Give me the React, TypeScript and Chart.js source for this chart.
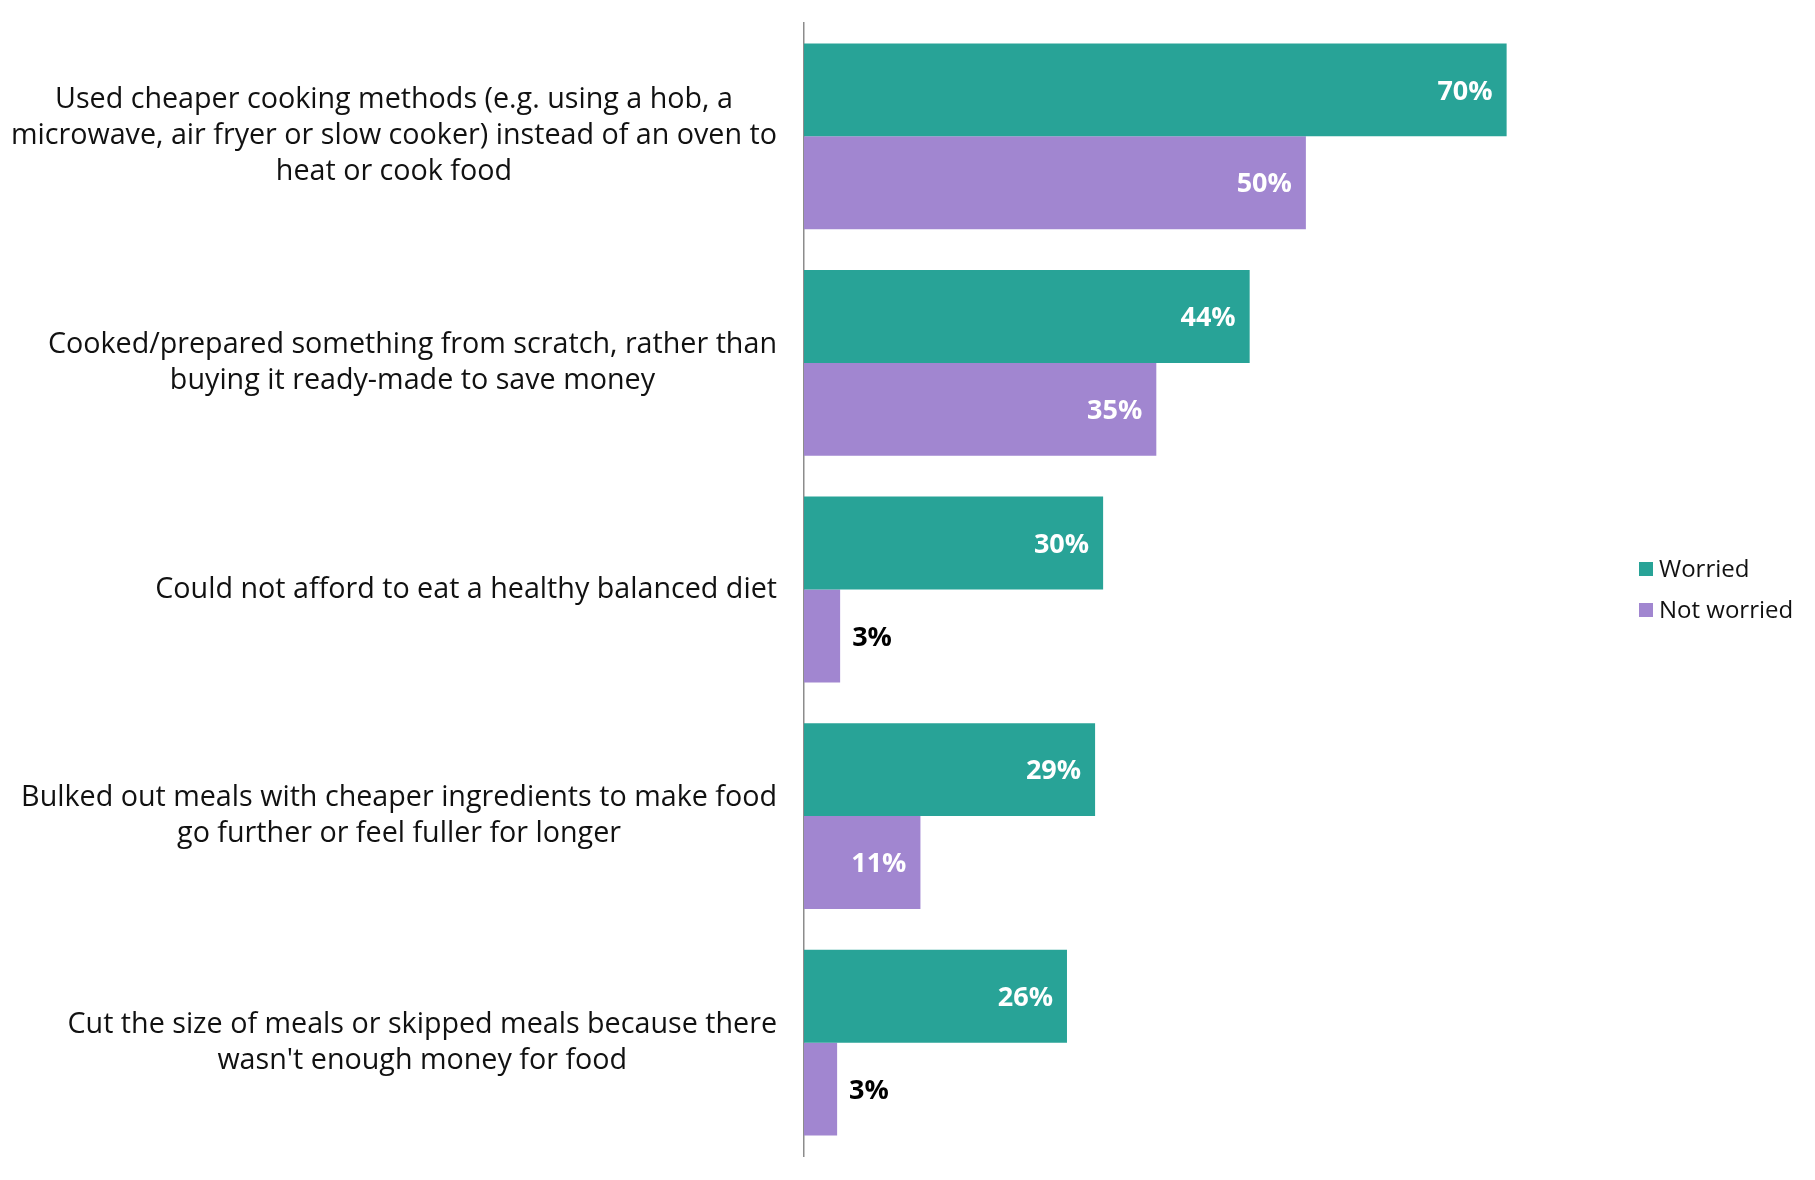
import React, { useEffect, useRef } from "react";
import { Chart, registerables } from "chart.js";

Chart.register(...registerables);

const categories: string[][] = [
  ["Used cheaper cooking methods (e.g. using a hob, a", "microwave, air fryer or slow cooker) instead of an oven to", "heat or cook food"],
  ["Cooked/prepared something from scratch, rather than", "buying it ready-made to save money"],
  ["Could not afford to eat a healthy balanced diet"],
  ["Bulked out meals with cheaper ingredients to make food", "go further or feel fuller for longer"],
  ["Cut the size of meals or skipped meals because there", "wasn't enough money for food"],
];

// bar lengths
const worried: number[] = [70, 44.4, 29.8, 29, 26.2];
const notWorried: number[] = [50, 35.1, 3.6, 11.6, 3.3];

// value labels as printed on the picture
const worriedLabels: string[] = ["70%", "44%", "30%", "29%", "26%"];
const notWorriedLabels: string[] = ["50%", "35%", "3%", "11%", "3%"];

const seriesNames: string[] = ["Worried", "Not worried"];
const seriesColors: string[] = ["#28A397", "#A186D0"];
const seriesLabels: string[][] = [worriedLabels, notWorriedLabels];

const FONT = "'Open Sans', 'Noto Sans', sans-serif";

const customDraw = {
  id: "customDraw",
  afterDatasetsDraw(chart: any) {
    const ctx = chart.ctx;
    const area = chart.chartArea;
    const yScale = chart.scales.y;
    ctx.save();

    // category labels
    ctx.font = `28.7px ${FONT}`;
    ctx.fillStyle = "#111111";
    ctx.textBaseline = "middle";
    ctx.textAlign = "center";
    const lineH = 36;
    const rightEdge = area.left - 27;
    categories.forEach((lines, i) => {
      const cy = yScale.getPixelForValue(i);
      const widest = Math.max(...lines.map((l) => ctx.measureText(l).width));
      const cx = rightEdge - widest / 2;
      const startY = cy - ((lines.length - 1) * lineH) / 2;
      lines.forEach((l, j) => ctx.fillText(l, cx, startY + j * lineH));
    });

    // data labels
    ctx.font = `bold 27px ${FONT}`;
    chart.data.datasets.forEach((ds: any, di: number) => {
      const meta = chart.getDatasetMeta(di);
      meta.data.forEach((bar: any, i: number) => {
        const text = seriesLabels[di][i];
        const tw = ctx.measureText(text).width;
        const barLen = bar.x - bar.base;
        if (barLen > tw + 30) {
          ctx.fillStyle = "#ffffff";
          ctx.textAlign = "right";
          ctx.fillText(text, bar.x - 14, bar.y + 2);
        } else {
          ctx.fillStyle = "#000000";
          ctx.textAlign = "left";
          ctx.fillText(text, bar.x + 12, bar.y + 2);
        }
      });
    });

    // legend
    ctx.font = `24px ${FONT}`;
    ctx.textAlign = "left";
    const lx = 1639;
    const ly = [569, 610];
    chart.data.datasets.forEach((ds: any, di: number) => {
      ctx.fillStyle = ds.backgroundColor;
      ctx.fillRect(lx, ly[di] - 7, 14, 14);
      ctx.fillStyle = "#111111";
      ctx.fillText(ds.label, lx + 20, ly[di] + 1);
    });

    ctx.restore();
  },
};

export default function App() {
  const ref = useRef<HTMLCanvasElement | null>(null);
  useEffect(() => {
    if (!ref.current) return;
    const chart = new Chart(ref.current, {
      type: "bar",
      data: {
        labels: categories.map((c) => c.join(" ")),
        datasets: [
          { label: seriesNames[0], data: worried, backgroundColor: seriesColors[0], categoryPercentage: 0.82, barPercentage: 1.0 },
          { label: seriesNames[1], data: notWorried, backgroundColor: seriesColors[1], categoryPercentage: 0.82, barPercentage: 1.0 },
        ],
      },
      options: {
        indexAxis: "y",
        animation: false,
        responsive: true,
        maintainAspectRatio: false,
        devicePixelRatio: 1,
        layout: { padding: { left: 804, right: 208, top: 23, bottom: 24 } },
        plugins: { legend: { display: false }, tooltip: { enabled: false } },
        scales: {
          x: { display: false, min: 0, max: 80 },
          y: {
            display: true,
            ticks: { display: false, padding: 0 },
            grid: { display: false, drawTicks: false },
            border: { display: true, color: "#8c8c8c", width: 1.5 },
          },
        },
      },
      plugins: [customDraw],
    });
    return () => chart.destroy();
  }, []);
  return (
    <div style={{ position: "absolute", left: 0, top: 0, width: 1815, height: 1180, background: "#fff" }}>
      <canvas ref={ref} />
    </div>
  );
}
